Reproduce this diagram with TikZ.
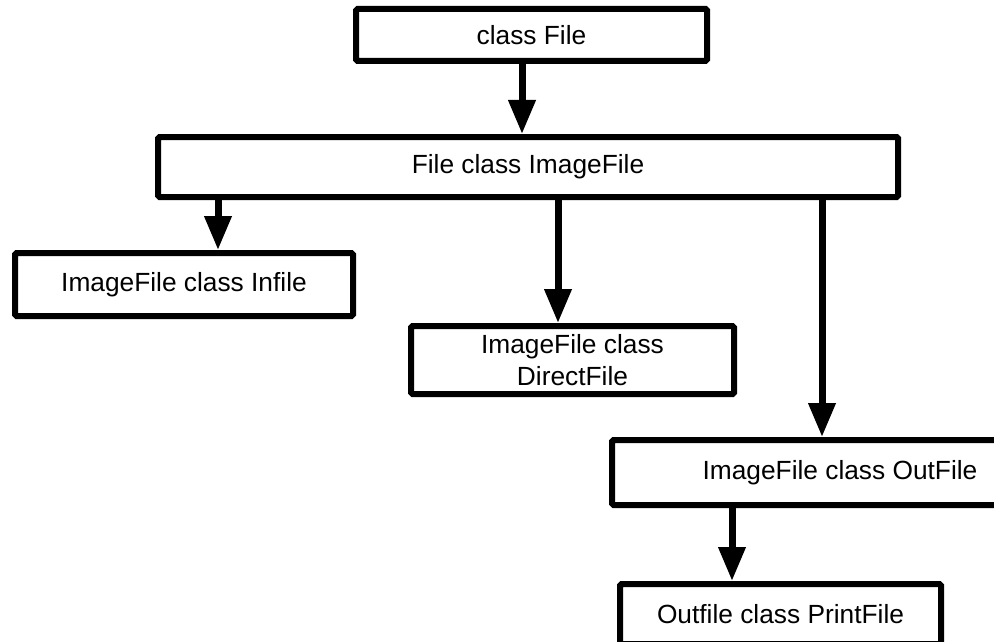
\documentclass[tikz,border=0pt]{standalone}
\usepackage{fontspec}
\setmainfont{Liberation Sans}
\usetikzlibrary{arrows.meta}
\begin{document}
\begin{tikzpicture}[x=1pt,y=-1pt,
  box/.style={draw=black,line width=6pt,rounded corners=1.5pt,inner sep=0pt,
    fill=white,font=\fontsize{26.3}{32}\selectfont,align=center},
  arr/.style={line width=7pt,-{Triangle[length=34pt,width=26pt]}}]
\useasboundingbox (0,0) rectangle (994,642);
\clip (0,0) rectangle (994,642);
\node[box,minimum width=351pt,minimum height=52pt] (b1) at (531.5,35) {class File};
\node[box,minimum width=740pt,minimum height=60pt] (b2) at (528,167) {File class ImageFile};
\node[box,minimum width=338pt,minimum height=63pt] (b3) at (184,284.5) {ImageFile class Infile};
\node[box,minimum width=323pt,minimum height=68pt] (b4) at (572.5,360) {ImageFile class\\DirectFile};
\node[box,minimum width=456pt,minimum height=65pt] (b5) at (840,472.5) {ImageFile class OutFile};
\node[box,minimum width=321pt,minimum height=60pt] (b6) at (780.5,614) {Outfile class PrintFile};
\coordinate (x1) at (522,0);
\coordinate (x2) at (218,0);
\coordinate (x3) at (558,0);
\coordinate (x4) at (822,0);
\coordinate (x5) at (732,0);
\draw[arr] (b1.south -| x1) -- (b2.north -| x1);
\draw[arr] (b2.south -| x2) -- (b3.north -| x2);
\draw[arr] (b2.south -| x3) -- (b4.north -| x3);
\draw[arr] (b2.south -| x4) -- (b5.north -| x4);
\draw[arr] (b5.south -| x5) -- (b6.north -| x5);
\end{tikzpicture}
\end{document}
